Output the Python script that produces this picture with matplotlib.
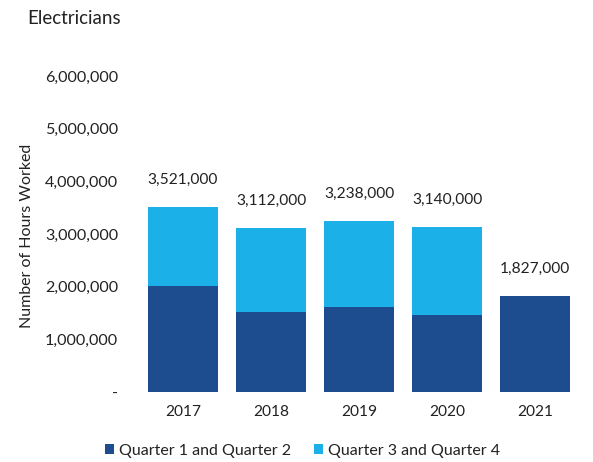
import matplotlib
matplotlib.use('Agg')
import matplotlib.pyplot as plt
from matplotlib.ticker import FuncFormatter

years = ['2017', '2018', '2019', '2020', '2021']
first_half = [2010000, 1520000, 1620000, 1470000, 1827000]
totals = [3521000, 3112000, 3238000, 3140000, 1827000]
second_half = [t - f for t, f in zip(totals, first_half)]

dark_blue = '#1d4d8e'
light_blue = '#1bb0e8'
text_color = '#222222'

plt.rcParams['font.family'] = ['Lato', 'DejaVu Sans']

fig = plt.figure(figsize=(5.93, 4.62), dpi=100)
ax = fig.add_axes([0.2344, 0.1515, 0.742, 0.684])

x = range(len(years))
ax.bar(x, first_half, width=0.8, color=dark_blue, label='Quarter 1 and Quarter 2')
ax.bar(x, second_half, width=0.8, bottom=first_half, color=light_blue,
       label='Quarter 3 and Quarter 4')

for i, total in enumerate(totals):
    ax.annotate(f'{total:,}', (i, total), xytext=(0, 19.5), textcoords='offset points',
                ha='center', va='center', fontsize=11.2, color=text_color)

ax.set_xlim(-0.5, len(years) - 0.5)
ax.set_ylim(0, 6000000)
ax.set_yticks(range(0, 6000001, 1000000))
ax.yaxis.set_major_formatter(FuncFormatter(lambda v, p: '-' if v == 0 else f'{int(v):,}'))
ax.set_xticks(list(x))
ax.set_xticklabels(years)
ax.tick_params(axis='y', length=0, pad=15, labelsize=11.6, labelcolor=text_color)
ax.tick_params(axis='x', length=0, pad=9, labelsize=11.2, labelcolor=text_color)
for s in ax.spines.values():
    s.set_visible(False)

fig.text(27 / 593, 1 - 236 / 462, 'Number of Hours Worked', rotation=90,
         ha='center', va='center', fontsize=11.5, color=text_color)
fig.text(27 / 593, 1 - 18 / 462, 'Electricians', ha='left', va='center',
         fontsize=13.5, color=text_color)

fig.legend(loc='center', bbox_to_anchor=(0.51, 1 - 451 / 462), ncol=2, frameon=False,
           fontsize=11.5, handlelength=0.6, handleheight=0.6, handletextpad=0.3,
           columnspacing=1.4, labelcolor=text_color)

fig.savefig('out.png', dpi=100, facecolor='white')
